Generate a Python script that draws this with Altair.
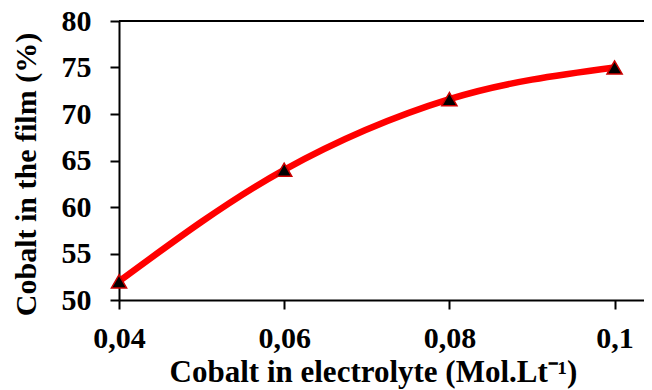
import altair as alt
import pandas as pd

x_vals = [0.04, 0.06, 0.08, 0.1]
y_vals = [52.0, 64.0, 71.6, 75.0]

df = pd.DataFrame({"x": x_vals, "y": y_vals})

FONT = "Liberation Serif"
W, H = 525, 279

xscale = alt.Scale(domain=[0.04, 0.10356], nice=False, zero=False)
yscale = alt.Scale(domain=[50, 80], nice=False, zero=False)

xaxis = alt.Axis(
    values=[0.04, 0.06, 0.08, 0.1],
    labelExpr="replace(format(datum.value, '.2~f'), '.', ',')",
    title="Cobalt in electrolyte (Mol.Lt⁻¹)",
    grid=False, domainColor="black", domainWidth=2, tickColor="black", tickWidth=2,
    tickSize=9, labelFont=FONT, labelFontSize=30, labelFontWeight="bold", labelColor="black",
    labelPadding=14, labelFlush=False,
    titleFont=FONT, titleFontSize=31, titleFontWeight="bold", titleColor="black",
    titleX=254, titleY=81, titleAlign="center", titleBaseline="alphabetic",
)
yaxis = alt.Axis(
    values=[50, 55, 60, 65, 70, 75, 80],
    title="Cobalt in the film (%)",
    grid=False, domainColor="black", domainWidth=2, tickColor="black", tickWidth=2,
    tickSize=9, labelFont=FONT, labelFontSize=30, labelFontWeight="bold", labelColor="black",
    labelPadding=19,
    titleFont=FONT, titleFontSize=30, titleFontWeight="bold", titleColor="black",
    titleX=-84, titleY=153, titleAlign="center", titleBaseline="alphabetic", titleAngle=270,
)

base = alt.Chart(df)

line = base.mark_line(color="#FF0000", strokeWidth=6.5, interpolate="monotone").encode(
    x=alt.X("x:Q", scale=xscale, axis=xaxis),
    y=alt.Y("y:Q", scale=yscale, axis=yaxis),
)
points = base.mark_point(shape="triangle-up", filled=True, fill="black", stroke="#CC0000",
                         strokeWidth=1.5, size=230, opacity=1).encode(
    x=alt.X("x:Q", scale=xscale),
    y=alt.Y("y:Q", scale=yscale),
)
top = alt.Chart(pd.DataFrame({"a": [0]})).mark_rule(color="black", strokeWidth=2).encode(
    x=alt.value(0), x2=alt.value(W), y=alt.value(0)
)

chart = alt.layer(top, line, points).properties(
    width=W, height=H,
    autosize=alt.AutoSizeParams(type="none"),
    padding={"left": 111, "top": 13, "right": 0, "bottom": 90},
).configure_view(stroke=None).configure(background="white")

chart.save("out.html", embed_options={"renderer": "svg", "actions": False})
